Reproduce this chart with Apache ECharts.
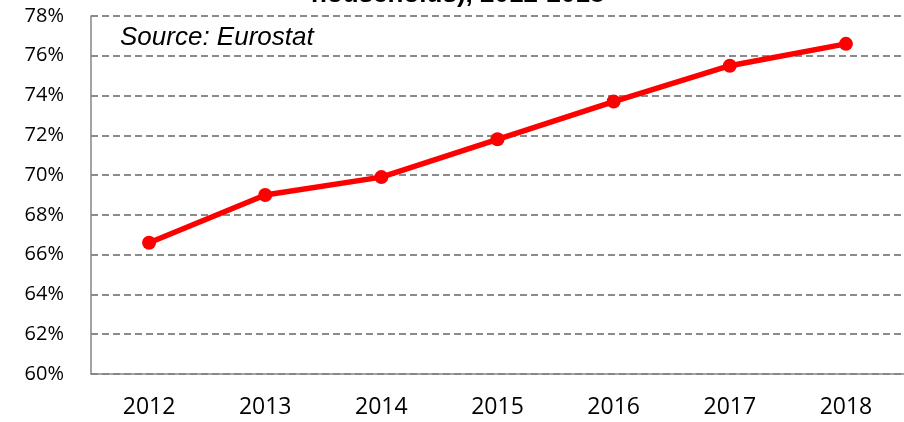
<!DOCTYPE html>
<html>
<head>
<meta charset="utf-8">
<script src="https://cdn.jsdelivr.net/npm/echarts@6/dist/echarts.min.js"></script>
<style>
  html, body { margin: 0; padding: 0; background: #fff; }
  #chart { width: 904px; height: 422px; }
</style>
</head>
<body>
<div id="chart"></div>
<script>
// values
const years = ['2012', '2013', '2014', '2015', '2016', '2017', '2018']
const access = [66.6, 69.0, 69.9, 71.8, 73.7, 75.5, 76.6]
const titleText = 'households), 2012-2018'
const sourceText = 'Source: Eurostat'

const chart = echarts.init(document.getElementById('chart'))
chart.setOption({
  animation: false,
  // title is cut off by the top edge in the original, only its last line shows
  title: {
    text: titleText,
    left: 306,
    top: -23,
    textStyle: {
      fontFamily: 'Liberation Sans',
      fontSize: 26,
      fontWeight: 'bold',
      color: '#000'
    }
  },
  graphic: [{
    type: 'text',
    left: 120,
    top: 25,
    style: {
      text: sourceText,
      font: 'italic 26px "Liberation Sans"',
      fill: '#000'
    }
  }],
  grid: {
    left: 91,
    right: -2,
    top: 16,
    bottom: 48
  },
  xAxis: {
    type: 'category',
    data: years,
    boundaryGap: true,
    axisLine: { lineStyle: { color: '#868686', width: 1.5 } },
    axisTick: { show: false },
    axisLabel: {
      margin: 22,
      fontFamily: 'Open Sans',
      fontSize: 23,
      color: '#000'
    }
  },
  yAxis: {
    type: 'value',
    min: 60,
    max: 78,
    interval: 2,
    axisLine: { show: true, lineStyle: { color: '#868686', width: 1.5 } },
    axisTick: { show: false },
    axisLabel: {
      margin: 27,
      fontFamily: 'Open Sans',
      fontSize: 20,
      color: '#000',
      formatter: v => v + '%'
    },
    splitLine: {
      lineStyle: { color: '#666666', width: 1.5, type: [7, 4] }
    }
  },
  series: [{
    type: 'line',
    data: access,
    symbol: 'circle',
    symbolSize: 14,
    itemStyle: { color: '#ff0000' },
    lineStyle: { color: '#ff0000', width: 5.5 }
  }]
})
</script>
</body>
</html>
